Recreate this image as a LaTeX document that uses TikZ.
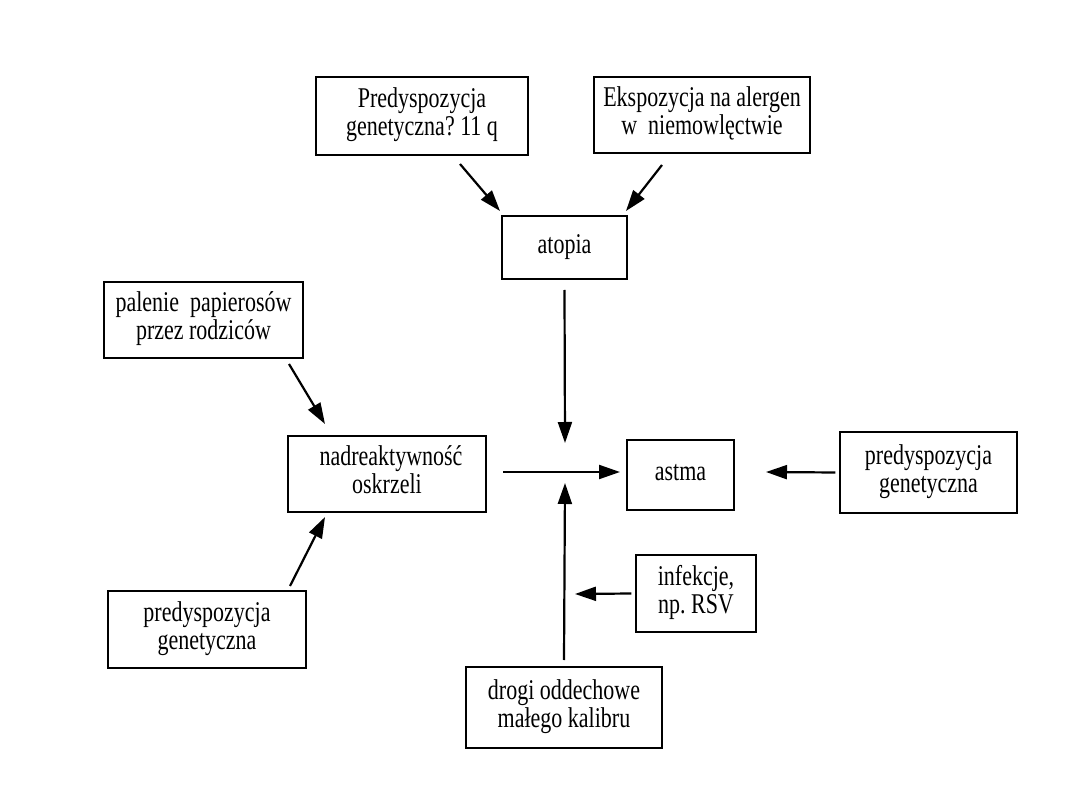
\documentclass[tikz,border=0pt]{standalone}
\usepackage{fontspec}
\usepackage{graphicx}
\setmainfont{Liberation Serif}
\usetikzlibrary{arrows.meta}
\newcommand{\tx}[1]{\scalebox{1}[1.3]{\fontsize{22}{21.5}\selectfont\begin{tabular}{@{}c@{}}#1\end{tabular}}}
\begin{document}
\begin{tikzpicture}[x=1pt,y=-1pt,
  box/.style={draw, line width=1.2pt, align=center, inner sep=0pt},
  arr/.style={line width=2.2pt, -{Triangle[length=21pt,width=14pt]}}]
\useasboundingbox (0,0) rectangle (1080,810);
\node[box, minimum width=212, minimum height=78] (pg1) at (422,116) {\tx{Predyspozycja\\genetyczna?\ 11\ q}};
\node[box, minimum width=216, minimum height=76] (eks) at (702,115) {\tx{Ekspozycja na alergen\\w\ \ niemowlęctwie}};
\node[box, minimum width=125, minimum height=63] (ato) at (564.5,247.5) {\tx{atopia}};
\node[box, minimum width=199, minimum height=76] (pal) at (203.5,320) {\tx{palenie\ \ papierosów\\przez\ rodziców}};
\node[box, minimum width=198, minimum height=76] (nad) at (387,474) {\tx{\hspace*{8pt}nadreaktywność\\oskrzeli}};
\node[box, minimum width=107, minimum height=70] (ast) at (680.5,475) {\tx{astma}};
\node[box, minimum width=177, minimum height=81] (pgr) at (928.5,472.5) {\tx{predyspozycja\\genetyczna}};
\node[box, minimum width=120, minimum height=77] (inf) at (696,593.5) {\tx{infekcje,\\np.\ RSV}};
\node[box, minimum width=198, minimum height=77] (pgl) at (207,629.5) {\tx{predyspozycja\\genetyczna}};
\node[box, minimum width=196, minimum height=81] (dro) at (564,707.5) {\tx{drogi\ oddechowe\\małego\ kalibru}};
\coordinate (hs) at (503,472);
\coordinate (he) at (620,472);
\coordinate (vt) at (565,443);
\coordinate (vb) at (565,483);
\coordinate (vi) at (575,594);
\draw[arr] (460,164) -- (500,211);
\draw[arr] (662,165) -- (626,211);
\draw[arr] (ato.south |- 0,290) -- (vt);
\draw[arr] (hs) -- (he);
\draw[arr] (dro.north |- 0,660) -- (vb);
\draw[arr] (inf.west) ++(-4,0) -- (vi);
\draw[arr] (pgr.west) ++(-4,0) -- (766,472);
\draw[arr] (289,364) -- (325,424);
\draw[arr] (290,586) -- (325,517);
\end{tikzpicture}
\end{document}
